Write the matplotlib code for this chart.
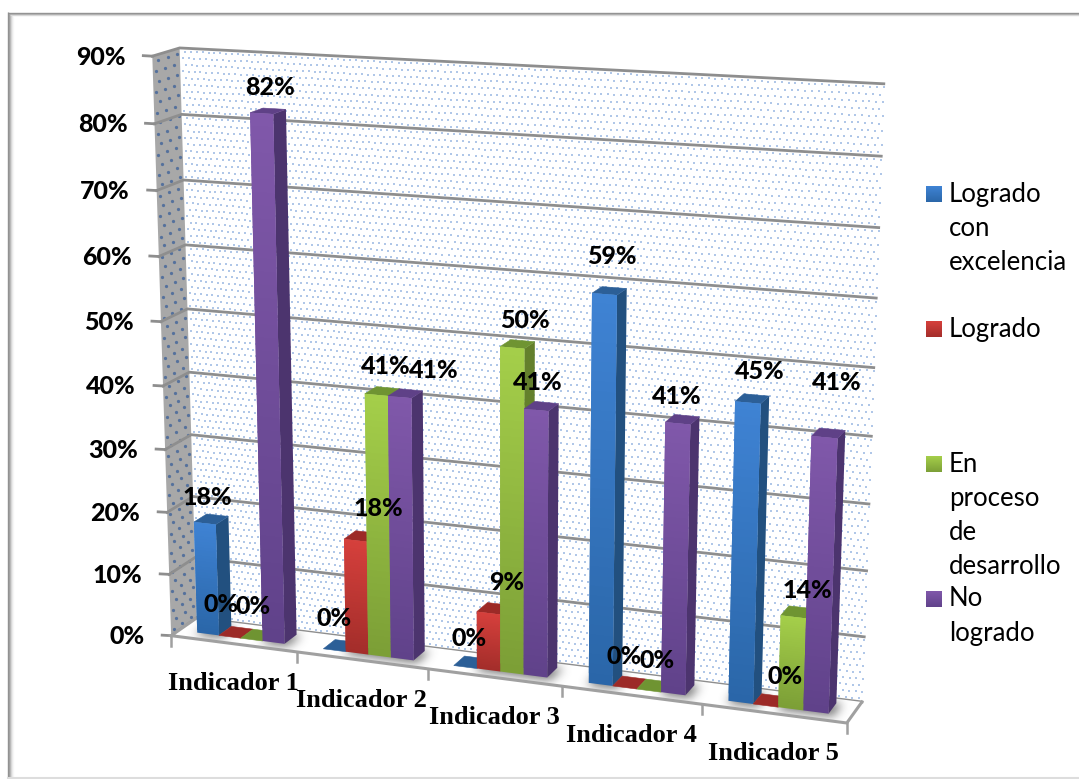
import numpy as np
import matplotlib
matplotlib.use("Agg")
import matplotlib.pyplot as plt
from matplotlib.collections import PolyCollection
from matplotlib.colors import to_rgb
from matplotlib.path import Path
from matplotlib.patches import Polygon

# ---- values -------------------------------------------------------------
categories = ["Indicador 1", "Indicador 2", "Indicador 3", "Indicador 4", "Indicador 5"]
series_names = ["Logrado con excelencia", "Logrado", "En proceso de desarrollo", "No logrado"]
logrado_excelencia = [18, 0, 0, 59, 45]
logrado = [0, 18, 9, 0, 0]
en_proceso = [0, 41, 50, 0, 14]
no_logrado = [82, 41, 41, 41, 41]
axis_ticks = [0, 10, 20, 30, 40, 50, 60, 70, 80, 90]

series_values = [logrado_excelencia, logrado, en_proceso, no_logrado]

# ---- styling ------------------------------------------------------------
W, H = 1079, 779
PALETTE = [  # front top, front bottom, side, top cap
    ("#3f83d4", "#2a66a8", "#22507f", "#2c5f97"),
    ("#d6403c", "#a32d2a", "#7f2320", "#9c2a27"),
    ("#a5cf4a", "#7b9e36", "#64802c", "#6f9432"),
    ("#8058aa", "#60428a", "#4c346e", "#5f4187"),
]
GRID = "#8e8e8e"
LABEL_FONT = ["Lato", "DejaVu Sans"]
CAT_FONT = ["Liberation Serif", "DejaVu Serif"]

# Pixel centres of the value labels, one row per series
label_centres = [
    [(207, 497), (334, 619), (469, 639), (612, 256), (760, 371)],
    [(221, 605), (378, 509), (507, 583), (624, 657), (785, 677)],
    [(253, 607), (386, 366), (525, 320), (657, 660), (807, 590)],
    [(270, 87), (434, 370), (538, 382), (677, 396), (837, 382)],
]

legend_rows = [
    (0, 194, ["Logrado", "con", "excelencia"]),
    (1, 329, ["Logrado"]),
    (2, 464, ["En", "proceso", "de", "desarrollo"]),
    (3, 599, ["No", "logrado"]),
]
LEGEND_STEP = 34

# ---- perspective camera, solved from the box edges ------------------------
# (slot along the category axis, depth 0..1, value) -> canvas pixel
anchors = [
    (0, 0, 0, 173, 633), (1, 0, 0, 297, 651), (2, 0, 0, 428, 670),
    (3, 0, 0, 562, 688), (4, 0, 0, 702, 705), (5, 0, 0, 847, 723),
    (0, 1, 0, 195, 620), (5, 1, 0, 862, 700),
    (0, 0, 90, 150, 58), (0, 1, 90, 181, 48), (5, 1, 90, 885, 84),
    (0, 0, 80, 155, 122), (0, 1, 80, 182, 114), (5, 1, 80, 880, 156),
]


def solve_camera(points):
    rows = []
    for u, d, v, x, y in points:
        rows.append([u, d, v, 1, 0, 0, 0, 0, -x * u, -x * d, -x * v, -x])
        rows.append([0, 0, 0, 0, u, d, v, 1, -y * u, -y * d, -y * v, -y])
    _, _, vt = np.linalg.svd(np.asarray(rows, float))
    return vt[-1].reshape(3, 4)


CAM = solve_camera(anchors)


def project(u, d, v):
    q = CAM @ np.array([u, d, v, 1.0])
    return q[0] / q[2], q[1] / q[2]


def quad(*corners):
    return [project(*c) for c in corners]


fig = plt.figure(figsize=(W / 100, H / 100), dpi=100)
ax = fig.add_axes([0, 0, 1, 1])
ax.set_xlim(0, W)
ax.set_ylim(H, 0)
ax.axis("off")

# ---- picture frame --------------------------------------------------------
for i, c in enumerate(["#8f8f8f", "#9c9c9c", "#b4b4b4", "#d2d2d2", "#e8e8e8", "#f6f6f6"]):
    ax.plot([8 + i, 8 + i], [12 + i, H], color=c, lw=1.0, solid_capstyle="butt", zorder=1)
for i, c in enumerate(["#8f8f8f", "#a8a8a8", "#d8d8d8"]):
    ax.plot([8 + i, W], [12.5 + i, 12.5 + i], color=c, lw=1.0, solid_capstyle="butt", zorder=1)
ax.plot([8, W], [778, 778], color="#dddddd", lw=1.5, zorder=1)

# ---- walls and floor -------------------------------------------------------
VMAX = axis_ticks[-1]
NCAT = len(categories)
back = quad((0, 1, 0), (NCAT, 1, 0), (NCAT, 1, VMAX), (0, 1, VMAX))
side = quad((0, 0, 0), (0, 1, 0), (0, 1, VMAX), (0, 0, VMAX))
floor = quad((0, 0, 0), (NCAT, 0, 0), (NCAT, 1, 0), (0, 1, 0))
ax.add_patch(Polygon(back, fc="white", ec="none", zorder=2))
ax.add_patch(Polygon(side, fc="#a8a8a8", ec="none", zorder=2))
ax.add_patch(Polygon(floor, fc="white", ec="none", zorder=3))

# dotted fill of the back wall
cols, rows = 112, 90
bx, by = [], []
for r in range(rows):
    for c in range(cols):
        x, y = project((c + 0.5 + 0.5 * (r % 2)) / cols * NCAT, 1, (r + 0.5) / rows * VMAX)
        bx.append(x)
        by.append(y)
ax.scatter(bx, by, s=2.0, c="#6f9ad6", alpha=0.55, linewidths=0, marker="s", zorder=2.5)

# dotted fill of the side wall
sx, sy = [], []
for r in range(58):
    for c in range(3):
        x, y = project(0, (c + 0.3 + 0.35 * (r % 2)) / 3, (r + 0.5) / 58 * VMAX)
        sx.append(x)
        sy.append(y)
ax.scatter(sx, sy, s=5.5, c="#47689a", alpha=0.85, linewidths=0, zorder=2.5)

# gridlines over both walls
for t in axis_ticks:
    pts = [project(0, 0, t), project(0, 1, t), project(NCAT, 1, t)]
    ax.plot(*zip(*pts), color=GRID, lw=2.0, solid_joinstyle="miter", zorder=2.7)
    x0, y0 = pts[0]
    ax.plot([x0 - 9, x0], [y0 - 0.5, y0], color=GRID, lw=2.0, zorder=2.7)
    ax.text(x0 - 27, y0 + 1, f"{t}%", family=LABEL_FONT, weight="black", fontsize=18,
            ha="right", va="center", color="black", zorder=9)

# floor outline and category ticks
fl = quad((0, 1, 0), (0, 0, 0), (NCAT, 0, 0), (NCAT, 1, 0))
ax.plot(*zip(*fl), color="#a0a0a0", lw=2.2, solid_joinstyle="miter", zorder=3.2)
for i in range(NCAT + 1):
    x, y = project(i, 0, 0)
    ax.plot([x, x], [y, y + 10], color="#a0a0a0", lw=1.8, zorder=3.2)
for i, name in enumerate(categories):
    x, y = project(i + 0.5, 0, 0)
    ax.text(x, y + 40, name, family=CAT_FONT, weight="bold", fontsize=19,
            ha="center", va="center", color="black", zorder=9)

# ---- bars ----------------------------------------------------------------
GAP = 0.148
BAR_W = 0.174
D0, D1 = 0.30, 0.80


def gradient_face(corners_bottom, corners_top, top_col, bottom_col, zorder, steps=40):
    """Paint a four-sided face as overlapping strips fading from bottom_col to top_col."""
    b0, b1 = np.array(corners_bottom[0]), np.array(corners_bottom[1])
    t0, t1 = np.array(corners_top[0]), np.array(corners_top[1])
    ct, cb = np.array(to_rgb(top_col)), np.array(to_rgb(bottom_col))
    polys, cols_ = [], []
    for k in range(steps):
        # every strip reaches one step further up, so the next one hides its seam
        a, e = k / steps, min(k + 2, steps) / steps
        polys.append([b0 + (t0 - b0) * a, b1 + (t1 - b1) * a, b1 + (t1 - b1) * e, b0 + (t0 - b0) * e])
        cols_.append(cb + (ct - cb) * (k + 0.5) / steps)
    ax.add_collection(PolyCollection(polys, facecolors=cols_, edgecolors="none", linewidths=0, zorder=zorder))


# soft shadow the bars cast on the floor
yy, xx = np.mgrid[0:H, 0:W]
grid_pts = np.column_stack([xx.ravel() + 0.5, yy.ravel() + 0.5])
mask = np.zeros(H * W)
for s, vals in enumerate(series_values):
    for c, val in enumerate(vals):
        if val <= 0:
            continue
        u0 = c + GAP + s * BAR_W
        foot = quad((u0, D0 - 0.1, 0), (u0 + BAR_W + 0.04, D0 - 0.1, 0), (u0 + BAR_W + 0.04, D1, 0), (u0, D1, 0))
        xs, ys = zip(*foot)
        sel = (grid_pts[:, 0] > min(xs)) & (grid_pts[:, 0] < max(xs)) & (grid_pts[:, 1] > min(ys)) & (grid_pts[:, 1] < max(ys))
        idx = np.where(sel)[0]
        mask[idx[Path(foot).contains_points(grid_pts[idx])]] = 1
mask = mask.reshape(H, W)
kernel = np.exp(-0.5 * (np.arange(-14, 15) / 5.0) ** 2)
kernel /= kernel.sum()
blur = np.apply_along_axis(lambda m: np.convolve(m, kernel, mode="same"), 1, mask)
blur = np.apply_along_axis(lambda m: np.convolve(m, kernel, mode="same"), 0, blur)
rgba = np.zeros((H, W, 4))
rgba[..., :3] = 0.3
rgba[..., 3] = blur * 0.8
shadow = ax.imshow(rgba, extent=(0, W, H, 0), aspect="auto", interpolation="bilinear", zorder=3.1)
shadow.set_clip_path(Polygon(floor, transform=ax.transData))
ax.set_xlim(0, W)
ax.set_ylim(H, 0)

z = 4.0
for c in range(NCAT):
    for s, vals in enumerate(series_values):
        val = vals[c]
        f_top, f_bot, f_side, f_cap = PALETTE[s]
        u0 = c + GAP + s * BAR_W
        u1 = u0 + BAR_W
        if val > 0:
            ax.add_patch(Polygon(quad((u1, D0, 0), (u1, D1, 0), (u1, D1, val), (u1, D0, val)),
                                 fc=f_side, ec="none", zorder=z))
        ax.add_patch(Polygon(quad((u0, D0, val), (u1, D0, val), (u1, D1, val), (u0, D1, val)),
                             fc=f_cap, ec=f_cap, lw=0.4, zorder=z + 0.1))
        if val > 0:
            gradient_face(quad((u0, D0, 0), (u1, D0, 0)), quad((u0, D0, val), (u1, D0, val)),
                          f_top, f_bot, z + 0.2)
        z += 0.3

# ---- value labels ----------------------------------------------------------
for s, vals in enumerate(series_values):
    for c, val in enumerate(vals):
        x, y = label_centres[s][c]
        ax.text(x, y, f"{val}%", family=LABEL_FONT, weight="black", fontsize=18,
                ha="center", va="center", color="black", zorder=20)

# ---- legend ------------------------------------------------------------------
for s, y0, lines in legend_rows:
    f_top, f_bot = PALETTE[s][:2]
    gradient_face([(926, y0 + 8), (942, y0 + 8)], [(926, y0 - 8), (942, y0 - 8)], f_top, f_bot, 9, steps=16)
    for k, line in enumerate(lines):
        ax.text(949, y0 + k * LEGEND_STEP, line, family=LABEL_FONT, fontsize=18.5,
                ha="left", va="center", color="black", zorder=9)

fig.savefig("out.png", dpi=100)
